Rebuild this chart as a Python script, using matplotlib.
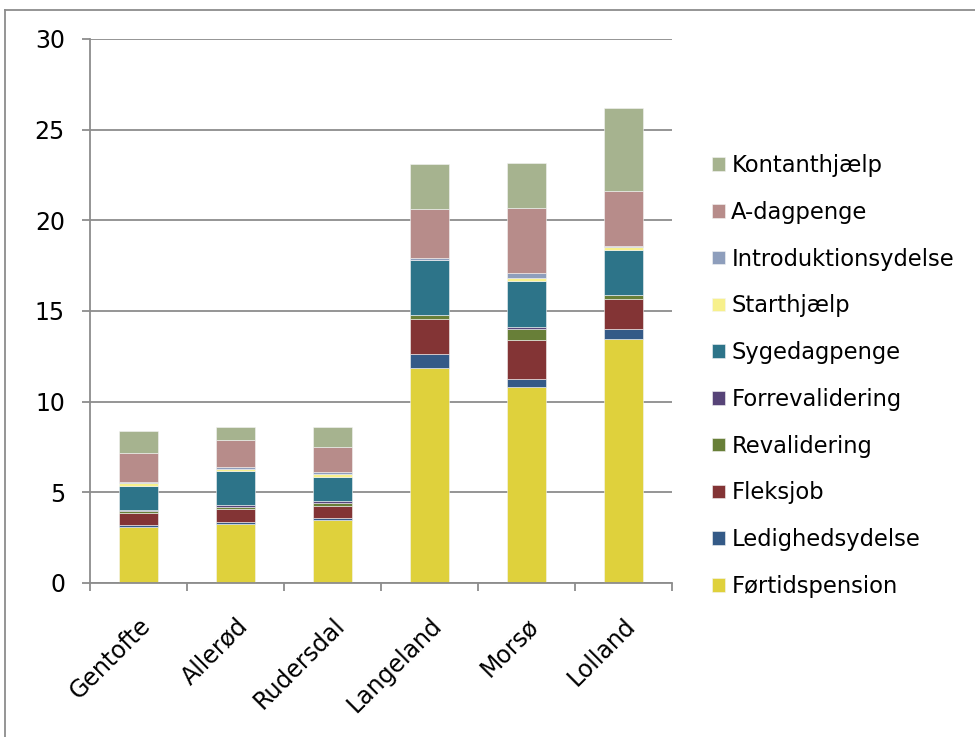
import matplotlib
matplotlib.use('Agg')
import matplotlib.pyplot as plt
from matplotlib.lines import Line2D
import numpy as np

plt.rcParams['font.family'] = ['DejaVu Sans']

# Kommuner på x-aksen
kommuner = ['Gentofte', 'Allerød', 'Rudersdal', 'Langeland', 'Morsø', 'Lolland']

# Ydelser (procent af befolkningen), stablet nedefra og op
fortidspension = [3.10, 3.27, 3.49, 11.88, 10.79, 13.47]
ledighedsydelse = [0.10, 0.11, 0.09, 0.73, 0.48, 0.52]
fleksjob = [0.68, 0.68, 0.68, 1.97, 2.12, 1.69]
revalidering = [0.09, 0.11, 0.14, 0.19, 0.60, 0.20]
forrevalidering = [0.06, 0.11, 0.11, 0.02, 0.11, 0.02]
sygedagpenge = [1.34, 1.90, 1.35, 3.01, 2.57, 2.49]
starthjaelp = [0.13, 0.11, 0.14, 0.03, 0.13, 0.13]
introduktionsydelse = [0.07, 0.09, 0.12, 0.10, 0.28, 0.09]
a_dagpenge = [1.62, 1.51, 1.36, 2.70, 3.62, 2.99]
kontanthjaelp = [1.19, 0.70, 1.11, 2.50, 2.48, 4.62]

serier = [
    ('Førtidspension', fortidspension, '#DFD13C'),
    ('Ledighedsydelse', ledighedsydelse, '#345A87'),
    ('Fleksjob', fleksjob, '#833435'),
    ('Revalidering', revalidering, '#687F38'),
    ('Forrevalidering', forrevalidering, '#574478'),
    ('Sygedagpenge', sygedagpenge, '#2D7489'),
    ('Starthjælp', starthjaelp, '#F7F08C'),
    ('Introduktionsydelse', introduktionsydelse, '#8E9EBC'),
    ('A-dagpenge', a_dagpenge, '#B78C8A'),
    ('Kontanthjælp', kontanthjaelp, '#A6B38F'),
]

fig = plt.figure(figsize=(9.75, 7.37), dpi=100)
ax = fig.add_axes([90 / 975, 1 - 583 / 737, 582 / 975, 544 / 737])

x = np.arange(len(kommuner))
bund = np.zeros(len(kommuner))
for navn, vaerdier, farve in serier:
    ax.bar(x, vaerdier, 0.4, bottom=bund, color=farve, label=navn,
           edgecolor='#f4f4f4', linewidth=0.4)
    bund += np.array(vaerdier)

ax.set_xlim(-0.5, len(kommuner) - 0.5)
ax.set_ylim(0, 30)
ax.set_yticks(range(0, 31, 5))
ax.yaxis.grid(True, color='#8c8c8c', linewidth=1.3)
ax.set_axisbelow(True)

# Akser i Excel-stil
for side in ['top', 'right']:
    ax.spines[side].set_visible(False)
for side in ['left', 'bottom']:
    ax.spines[side].set_color('#8c8c8c')
    ax.spines[side].set_linewidth(1.3)

ax.set_xticks(np.arange(len(kommuner) + 1) - 0.5, minor=False)
ax.set_xticklabels([])
ax.set_xticks(x, minor=True)
ax.set_xticklabels(kommuner, minor=True, rotation=45, ha='right', va='top',
                   rotation_mode='anchor', fontsize=17)
ax.tick_params(axis='x', which='minor', length=0, pad=22)
ax.tick_params(axis='x', which='major', length=6, color='#8c8c8c', width=1.3)
ax.tick_params(axis='y', length=6, color='#8c8c8c', width=1.3,
               labelsize=17, pad=12)

handles, labels = ax.get_legend_handles_labels()
ax.legend(handles[::-1], labels[::-1], loc='center left',
          bbox_to_anchor=(703 / 975, 1 - 376 / 737),
          bbox_transform=fig.transFigure, frameon=False, fontsize=16.3,
          handlelength=0.55, handleheight=0.55, handletextpad=0.3,
          labelspacing=1.05, borderaxespad=0)

# Ramme om diagramområdet
fig.add_artist(Line2D([5 / 975, 5 / 975], [0, 1 - 10 / 737],
                      transform=fig.transFigure, color='#8c8c8c', linewidth=1.3))
fig.add_artist(Line2D([5 / 975, 1], [1 - 10 / 737, 1 - 10 / 737],
                      transform=fig.transFigure, color='#8c8c8c', linewidth=1.3))

fig.savefig('out.png', dpi=100)
